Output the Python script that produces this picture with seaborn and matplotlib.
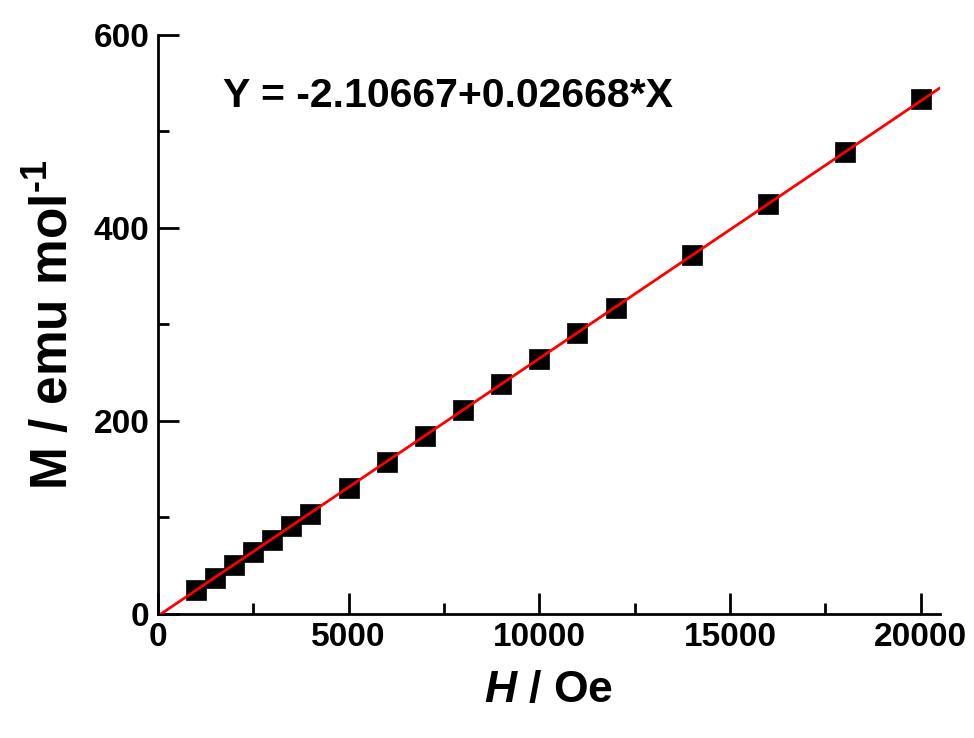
import numpy as np
import pandas as pd
import seaborn as sns
import matplotlib.pyplot as plt
from matplotlib.ticker import MultipleLocator

# data
field_oe = [1000, 1500, 2000, 2500, 3000, 3500, 4000, 5000, 6000, 7000,
            8000, 9000, 10000, 11000, 12000, 14000, 16000, 18000, 20000]
moment = [25, 37, 51, 64, 77, 91, 104, 130, 157, 184,
          211, 238, 264, 291, 317, 372, 425, 479, 533]
fit_intercept = -2.10667
fit_slope = 0.02668

df = pd.DataFrame({'H': field_oe, 'M': moment})

sns.set_style("ticks")
plt.rcParams['font.family'] = ['Liberation Sans', 'DejaVu Sans']
plt.rcParams['font.weight'] = 'bold'
plt.rcParams['text.color'] = 'black'
plt.rcParams['axes.labelcolor'] = 'black'
plt.rcParams['axes.edgecolor'] = 'black'
plt.rcParams['xtick.color'] = 'black'
plt.rcParams['ytick.color'] = 'black'
plt.rcParams['mathtext.fontset'] = 'custom'
plt.rcParams['mathtext.rm'] = 'Liberation Sans:bold'
plt.rcParams['mathtext.it'] = 'Liberation Sans:bold:italic'
plt.rcParams['mathtext.bf'] = 'Liberation Sans:bold'

fig = plt.figure(figsize=(9.74, 7.38), dpi=100)
ax = fig.add_axes([0.162, 0.168, 0.803, 0.785])

sns.scatterplot(data=df, x='H', y='M', marker='s', s=190, color='black',
                edgecolor='black', linewidth=0.5, ax=ax, zorder=2)
ax.axline((0, fit_intercept), slope=fit_slope, color='red', lw=2, zorder=3)

ax.set_xlim(0, 20500)
ax.set_ylim(0, 600)
ax.xaxis.set_major_locator(MultipleLocator(5000))
ax.xaxis.set_minor_locator(MultipleLocator(2500))
ax.yaxis.set_major_locator(MultipleLocator(200))
ax.yaxis.set_minor_locator(MultipleLocator(100))

sns.despine(ax=ax)
for s in ['left', 'bottom']:
    ax.spines[s].set_linewidth(2)
    ax.spines[s].set_color('black')
ax.tick_params(which='major', direction='in', length=15, width=2,
               labelsize=24, pad=6, color='black', labelcolor='black')
ax.tick_params(which='minor', direction='in', length=8, width=2, color='black')
for lab in ax.get_xticklabels() + ax.get_yticklabels():
    lab.set_fontweight('bold')

ax.set_xlabel(r'$H$ / Oe', fontsize=32, fontweight='bold', labelpad=12)
ax.set_ylabel(r'M / emu mol$^{\text{-1}}$', fontsize=37, fontweight='bold', labelpad=10)

ax.text(0.083, 0.895, 'Y = -2.10667+0.02668*X', transform=ax.transAxes,
        fontsize=29.5, fontweight='bold', va='center', ha='left')

fig.savefig('out.png', dpi=100)
